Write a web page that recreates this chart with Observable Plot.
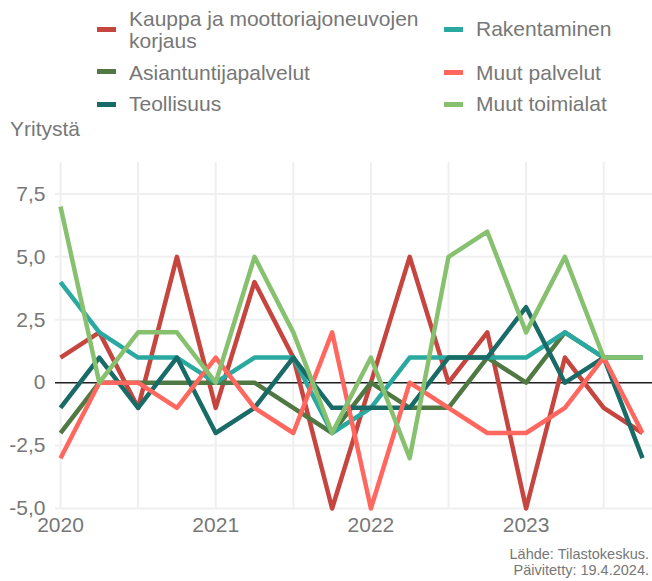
<!DOCTYPE html>
<html>
<head>
<meta charset="utf-8">
<script src="https://cdn.jsdelivr.net/npm/d3@7"></script>
<script src="https://cdn.jsdelivr.net/npm/@observablehq/plot@0.6"></script>
<style>
  html, body { margin: 0; padding: 0; background: #fff; }
  body { width: 652px; height: 581px; overflow: hidden; font-family: "Liberation Sans", Arial, sans-serif; color: #777; }
  #head { position: relative; height: 140px; }
  .sw { position: absolute; width: 19px; height: 5px; }
  .lt { position: absolute; font-size: 21px; line-height: 22px; white-space: nowrap; color: #777; }
  #ylab { position: absolute; left: 10px; top: 118px; font-size: 21px; line-height: 22px; color: #777; }
  #cap { text-align: right; padding-right: 3px; font-size: 14.5px; line-height: 16px; margin-top: 6px; color: #777; }
</style>
</head>
<body>
<div id="head"></div>
<div id="chart"></div>
<div id="cap">Lähde: Tilastokeskus.<br>Päivitetty: 19.4.2024.</div>
<script>
// ---- data ----
const quarters = ["2020Q1","2020Q2","2020Q3","2020Q4","2021Q1","2021Q2","2021Q3","2021Q4",
                  "2022Q1","2022Q2","2022Q3","2022Q4","2023Q1","2023Q2","2023Q3","2023Q4"];
const kauppa        = [1, 2, -1, 5, -1, 4, 1, -5, 0, 5, 0, 2, -5, 1, -1, -2];
const asiantuntija  = [-2, 0, 0, 0, 0, 0, -1, -2, 0, -1, -1, 1, 0, 2, 1, 1];
const teollisuus    = [-1, 1, -1, 1, -2, -1, 1, -1, -1, -1, 1, 1, 3, 0, 1, -3];
const rakentaminen  = [4, 2, 1, 1, 0, 1, 1, -2, -1, 1, 1, 1, 1, 2, 1, 1];
const muutPalvelut  = [-3, 0, 0, -1, 1, -1, -2, 2, -5, 0, -1, -2, -2, -1, 1, -2];
const muutToimialat = [7, 0, 2, 2, 0, 5, 2, -2, 1, -3, 5, 6, 2, 5, 1, 1];

const seriesNames  = ["Kauppa ja moottoriajoneuvojen korjaus", "Asiantuntijapalvelut", "Teollisuus",
                      "Rakentaminen", "Muut palvelut", "Muut toimialat"];
const seriesValues = [kauppa, asiantuntija, teollisuus, rakentaminen, muutPalvelut, muutToimialat];
const seriesColors = ["#c6453f", "#4f7842", "#186b66", "#2aa9a1", "#ff675f", "#87c16f"];
const drawOrder    = [0, 1, 3, 2, 4, 5];

const yTicks = [-5, -2.5, 0, 2.5, 5, 7.5];
const xTicks = [2020, 2021, 2022, 2023];
const xGrid  = [2020, 2020.5, 2021, 2021.5, 2022, 2022.5, 2023, 2023.5];
const yLabel = "Yritystä";

// ---- legend (HTML) ----
const head = document.getElementById("head");
const legendPos = [
  {sx: 97,  sy: 27,  tx: 129, ty: 7.7},
  {sx: 97,  sy: 69,  tx: 129, ty: 61.7},
  {sx: 97,  sy: 101.5, tx: 129, ty: 92.7},
  {sx: 444, sy: 27,  tx: 476, ty: 18.4},
  {sx: 444, sy: 69.5,  tx: 476, ty: 61.7},
  {sx: 444, sy: 102, tx: 476, ty: 93.4}
];
seriesNames.forEach((name, i) => {
  const p = legendPos[i];
  const sw = document.createElement("div");
  sw.className = "sw";
  sw.style.left = p.sx + "px"; sw.style.top = p.sy + "px";
  sw.style.background = seriesColors[i];
  head.appendChild(sw);
  const t = document.createElement("div");
  t.className = "lt";
  t.style.left = p.tx + "px"; t.style.top = p.ty + "px";
  if (i === 0) t.innerHTML = "Kauppa ja moottoriajoneuvojen<br>korjaus";
  else t.textContent = name;
  head.appendChild(t);
});
const yl = document.createElement("div");
yl.id = "ylab"; yl.textContent = yLabel;
head.appendChild(yl);

// ---- chart ----
const toX = q => +q.slice(0, 4) + (+q.slice(5) - 1) / 4;
const lineMarks = drawOrder.map(i =>
  Plot.line(quarters.map((q, k) => ({x: toX(q), y: seriesValues[i][k]})), {
    x: "x", y: "y", stroke: seriesColors[i], strokeWidth: 4.5,
    strokeLinejoin: "round", strokeLinecap: "butt"
  })
);

const fmt = d => d === 0 ? "0" : d.toFixed(1).replace(".", ",");

const chart = Plot.plot({
  width: 652,
  height: 400,
  marginTop: 22,
  marginBottom: 32,
  marginLeft: 55,
  marginRight: 0,
  style: {fontFamily: "'Liberation Sans', Arial, sans-serif", fontSize: "21px", color: "#777", background: "#fff"},
  x: {domain: [2020, 2023.75], insetLeft: 5, insetRight: 10, ticks: xTicks, tickFormat: d => String(d),
      tickSize: 0, tickPadding: 9, label: null},
  y: {domain: [-5, 8.75], ticks: yTicks, tickFormat: fmt, tickSize: 0, tickPadding: 10, label: null},
  marks: [
    Plot.ruleX(xGrid, {stroke: "#efefef", strokeWidth: 2}),
    Plot.ruleY(yTicks, {stroke: "#efefef", strokeWidth: 2}),
    Plot.ruleY([0], {stroke: "#222", strokeWidth: 1.5}),
    ...lineMarks
  ]
});
document.getElementById("chart").appendChild(chart);
</script>
</body>
</html>
